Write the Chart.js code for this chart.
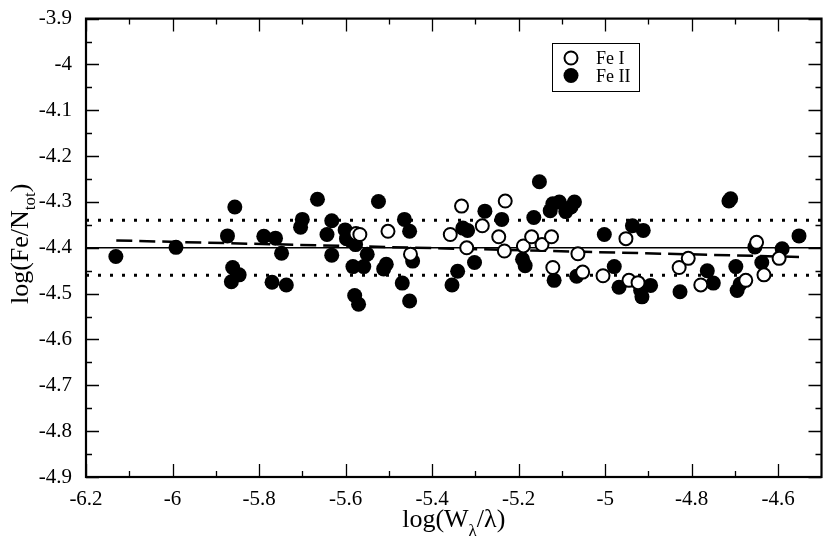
<!DOCTYPE html>
<html>
<head>
<meta charset="utf-8">
<script src="https://cdn.jsdelivr.net/npm/chart.js@4/dist/chart.umd.min.js"></script>
<style>
  html, body { margin: 0; padding: 0; background: #fff; }
  canvas { display: block; }
</style>
</head>
<body>
<canvas id="chartFe" width="830" height="541"></canvas>
<script>
// Fe I (open circles)
const feIX = [-5.576, -5.567, -5.502, -5.450, -5.358, -5.332, -5.320, -5.284, -5.231, -5.246,
  -5.233, -5.189, -5.170, -5.146, -5.124, -5.121, -5.063, -5.052, -5.005, -4.952,
  -4.945, -4.924, -4.829, -4.808, -4.779, -4.675, -4.650, -4.633, -4.598];
const feIY = [-4.369, -4.371, -4.364, -4.414, -4.371, -4.309, -4.400, -4.352, -4.298, -4.376,
  -4.407, -4.396, -4.376, -4.393, -4.376, -4.443, -4.413, -4.453, -4.461, -4.380,
  -4.471, -4.476, -4.443, -4.423, -4.481, -4.471, -4.388, -4.459, -4.423];

// Fe II (filled circles)
const feIIX = [-6.131, -5.992, -5.856, -5.873, -5.861, -5.846, -5.864, -5.789, -5.762, -5.748,
  -5.770, -5.737, -5.665, -5.700, -5.704, -5.632, -5.643, -5.632, -5.601, -5.598,
  -5.577, -5.550, -5.583, -5.558, -5.506, -5.512, -5.579, -5.570, -5.524, -5.464,
  -5.452, -5.445, -5.469, -5.452, -5.329, -5.318, -5.278, -5.239, -5.341, -5.354,
  -5.302, -5.191, -5.185, -5.152, -5.165, -5.121, -5.106, -5.127, -5.091, -5.071,
  -5.079, -5.118, -5.066, -5.002, -4.937, -4.912, -4.979, -4.968, -4.918, -4.915,
  -4.895, -4.827, -4.764, -4.750, -4.698, -4.710, -4.714, -4.695, -4.688, -4.654,
  -4.638, -4.591, -4.552];
const feIIY = [-4.419, -4.399, -4.311, -4.374, -4.443, -4.459, -4.474, -4.375, -4.379, -4.412,
  -4.475, -4.481, -4.294, -4.338, -4.355, -4.341, -4.371, -4.416, -4.361, -4.380,
  -4.393, -4.414, -4.441, -4.441, -4.436, -4.446, -4.504, -4.523, -4.299, -4.338,
  -4.364, -4.429, -4.477, -4.516, -4.357, -4.362, -4.320, -4.338, -4.451, -4.481,
  -4.432, -4.425, -4.439, -4.256, -4.334, -4.304, -4.300, -4.319, -4.321, -4.300,
  -4.311, -4.471, -4.462, -4.371, -4.352, -4.362, -4.441, -4.486, -4.493, -4.507,
  -4.482, -4.496, -4.450, -4.477, -4.441, -4.293, -4.298, -4.493, -4.479, -4.398,
  -4.432, -4.402, -4.374];

// mean, +/- scatter and linear fit
const meanX = [-6.2, -4.5];
const meanY = -4.4;
const scatterBand = 0.06;
const fitX = [-6.13, -4.552];
const fitY = [-4.384, -4.420];

// axes
const xTicks = [-6.2, -6.0, -5.8, -5.6, -5.4, -5.2, -5.0, -4.8, -4.6];
const xTickLabels = ['-6.2', '-6', '-5.8', '-5.6', '-5.4', '-5.2', '-5', '-4.8', '-4.6'];
const yTicks = [-4.9, -4.8, -4.7, -4.6, -4.5, -4.4, -4.3, -4.2, -4.1, -4.0, -3.9];
const yTickLabels = ['-4.9', '-4.8', '-4.7', '-4.6', '-4.5', '-4.4', '-4.3', '-4.2', '-4.1', '-4', '-3.9'];

const legendLabels = ['Fe I', 'Fe II'];

const toPoints = (xs, ys) => xs.map((x, i) => ({ x, y: ys[i] }));
const hLine = (y) => meanX.map(x => ({ x, y }));

const FONT = "'Liberation Serif', 'DejaVu Serif', serif";

// frame, inward tick marks, axis titles with subscripts, legend box
const frameTicks = {
  id: 'frameTicks',
  afterDatasetsDraw(chart) {
    const { ctx, chartArea: a, scales: { x, y } } = chart;
    ctx.save();
    ctx.strokeStyle = '#000';
    ctx.lineWidth = 1.3;
    const xMinor = [];
    for (let i = 0; i < xTicks.length; i++) {
      const next = i + 1 < xTicks.length ? xTicks[i + 1] : xTicks[i] + 0.2;
      xMinor.push((xTicks[i] + next) / 2);
    }
    const yMinor = [];
    for (let i = 0; i + 1 < yTicks.length; i++) yMinor.push((yTicks[i] + yTicks[i + 1]) / 2);

    const xMark = (v, len) => {
      const px = Math.round(x.getPixelForValue(v)) + 0.5;
      ctx.beginPath();
      ctx.moveTo(px, a.bottom); ctx.lineTo(px, a.bottom - len);
      ctx.moveTo(px, a.top); ctx.lineTo(px, a.top + len);
      ctx.stroke();
    };
    const yMark = (v, len) => {
      const py = Math.round(y.getPixelForValue(v)) + 0.5;
      ctx.beginPath();
      ctx.moveTo(a.left, py); ctx.lineTo(a.left + len, py);
      ctx.moveTo(a.right, py); ctx.lineTo(a.right - len, py);
      ctx.stroke();
    };
    xTicks.forEach(v => xMark(v, 13));
    xMinor.forEach(v => { if (v < -4.5) xMark(v, 6); });
    yTicks.forEach(v => yMark(v, 13));
    yMinor.forEach(v => yMark(v, 6));

    ctx.lineWidth = 2.2;
    ctx.strokeRect(a.left, a.top, a.right - a.left, a.bottom - a.top);
    ctx.restore();
  },
  afterDraw(chart) {
    const { ctx, chartArea: a } = chart;
    ctx.save();
    ctx.fillStyle = '#000';
    ctx.textBaseline = 'alphabetic';

    // x title: log(W_lambda/lambda)
    const big = '26px ' + FONT, small = '17px ' + FONT;
    const partsX = [['log(W', big, 0], ['\u03bb', small, 9], ['/\u03bb)', big, 0]];
    let w = 0;
    partsX.forEach(p => { ctx.font = p[1]; w += ctx.measureText(p[0]).width; });
    let cx = (a.left + a.right) / 2 - w / 2;
    partsX.forEach(p => { ctx.font = p[1]; ctx.fillText(p[0], cx, 527 + p[2]); cx += ctx.measureText(p[0]).width; });

    // y title: log(Fe/N_tot)
    ctx.translate(28, (a.top + a.bottom) / 2 - 4);
    ctx.rotate(-Math.PI / 2);
    const partsY = [['log(Fe/N', big, 0], ['tot', small, 7], [')', big, 0]];
    w = 0;
    partsY.forEach(p => { ctx.font = p[1]; w += ctx.measureText(p[0]).width; });
    cx = -w / 2;
    partsY.forEach(p => { ctx.font = p[1]; ctx.fillText(p[0], cx, p[2]); cx += ctx.measureText(p[0]).width; });
    ctx.restore();

    // legend box
    ctx.save();
    ctx.strokeStyle = '#000';
    ctx.lineWidth = 1;
    ctx.strokeRect(552.5, 43.5, 87, 48);
    ctx.lineWidth = 2;
    ctx.beginPath(); ctx.arc(571, 58, 6.5, 0, Math.PI * 2); ctx.fillStyle = '#fff'; ctx.fill(); ctx.stroke();
    ctx.beginPath(); ctx.arc(571, 75.5, 7.5, 0, Math.PI * 2); ctx.fillStyle = '#000'; ctx.fill();
    ctx.font = '18px ' + FONT;
    ctx.fillText(legendLabels[0], 596, 64);
    ctx.fillText(legendLabels[1], 596, 82);
    ctx.restore();
  }
};

const lineStyle = { showLine: true, pointRadius: 0, fill: false, borderColor: '#000', backgroundColor: '#000' };

const chartFe = new Chart(document.getElementById('chartFe').getContext('2d'), {
  type: 'scatter',
  data: {
    datasets: [
      { label: 'Fe I', data: toPoints(feIX, feIY), pointRadius: 6.5, pointBorderWidth: 2,
        borderColor: '#000', backgroundColor: '#fff', order: 0 },
      { label: 'Fe II', data: toPoints(feIIX, feIIY), pointRadius: 7.5, pointBorderWidth: 0,
        borderColor: '#000', backgroundColor: '#000', order: 1 },
      Object.assign({ label: 'mean', data: hLine(meanY), borderWidth: 1.5, order: 2 }, lineStyle),
      Object.assign({ label: '+s', data: hLine(meanY + scatterBand), borderWidth: 3, borderDash: [3, 9], order: 3 }, lineStyle),
      Object.assign({ label: '-s', data: hLine(meanY - scatterBand), borderWidth: 3, borderDash: [3, 9], order: 4 }, lineStyle),
      Object.assign({ label: 'fit', data: toPoints(fitX, fitY), borderWidth: 2.5, borderDash: [16, 7], order: 5 }, lineStyle)
    ]
  },
  options: {
    responsive: false,
    animation: false,
    devicePixelRatio: 1,
    layout: { padding: { top: 10, right: 7, left: 0, bottom: 0 } },
    plugins: { legend: { display: false }, tooltip: { enabled: false } },
    scales: {
      x: {
        type: 'linear', min: -6.2, max: -4.5,
        grid: { display: false },
        border: { display: false },
        afterBuildTicks: s => { s.ticks = xTicks.map(v => ({ value: v })); },
        afterFit: s => { s.height = 64; },
        ticks: { color: '#000', padding: 2, font: { family: FONT, size: 21 },
          maxRotation: 0, autoSkip: false, callback: (v, i) => xTickLabels[i] }
      },
      y: {
        type: 'linear', min: -4.9, max: -3.9,
        grid: { display: false },
        border: { display: false },
        afterBuildTicks: s => { s.ticks = yTicks.map(v => ({ value: v })); },
        afterFit: s => { s.width = 86; },
        ticks: { color: '#000', padding: 6, font: { family: FONT, size: 21 },
          autoSkip: false, callback: (v, i) => yTickLabels[i] }
      }
    }
  },
  plugins: [frameTicks]
});
</script>
</body>
</html>
